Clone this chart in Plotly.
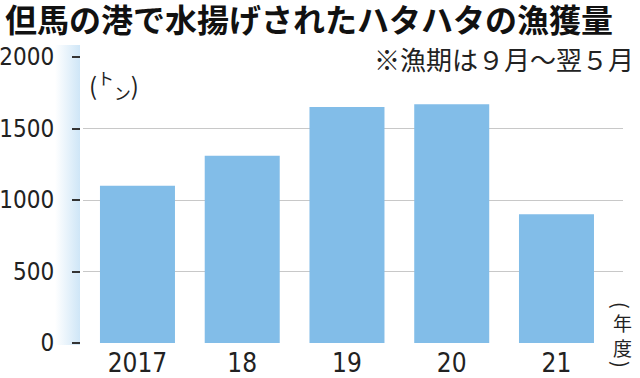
import base64
import plotly.graph_objects as go

years = ["2017", "18", "19", "20", "21"]
catch_t = [1100, 1310, 1650, 1670, 900]
y_ticks = [0, 500, 1000, 1500, 2000]
y_tick_labels = ["0", "500", "1000", "1500", "2000"]

title_text = "但馬の港で水揚げされたハタハタの漁獲量"
note_text = "※漁期は９月～翌５月"
unit_text = "(<sup>ト</sup><sub>ン</sub>)"

BAR = "#82bde8"
W, H = 640, 378
ML, MR, MT, MB = 80, 17, 57, 35
PW = W - ML - MR
PH = H - MT - MB
NUMFONT = "DejaVu Sans Condensed, Liberation Sans Narrow, Roboto, sans-serif"

def px_x(p):
    return (p - ML) / PW

def px_y(p):
    return (H - MB - p) / PH

svg = ('<svg xmlns="http://www.w3.org/2000/svg" width="25" height="300" preserveAspectRatio="none">'
       '<defs><linearGradient id="g" x1="0" y1="0" x2="1" y2="0">'
       '<stop offset="0" stop-color="#ffffff"/><stop offset="1" stop-color="#cfe6f7"/>'
       '</linearGradient></defs><rect width="25" height="300" fill="url(#g)"/></svg>')
src = "data:image/svg+xml;base64," + base64.b64encode(svg.encode()).decode()

fig = go.Figure()
fig.add_trace(go.Bar(x=list(range(len(years))), y=catch_t, marker_color=BAR,
                     marker_line_width=0, width=0.716, hoverinfo="skip"))

fig.update_layout(
    width=W, height=H,
    margin=dict(l=ML, r=MR, t=MT, b=MB, pad=0, autoexpand=False),
    paper_bgcolor="white", plot_bgcolor="white",
    showlegend=False,
    font=dict(family=NUMFONT, color="#222"),
    title=dict(text=title_text, x=0.008, xref="container", xanchor="left",
               y=1 - 21 / H, yref="container", yanchor="middle", automargin=False,
               font=dict(family="Noto Sans CJK JP", size=32, color="#111", weight="bold")),
    xaxis=dict(domain=[px_x(83), 1], range=[-0.52, 4.635], automargin=False,
               tickvals=list(range(len(years))), ticktext=years,
               showgrid=False, zeroline=False, showline=False, ticks="",
               tickfont=dict(size=26, color="#222"), ticklabelstandoff=2),
    yaxis=dict(anchor="free", position=0, range=[0, 2000], automargin=False,
               tickvals=y_ticks, ticktext=y_tick_labels,
               showgrid=True, gridcolor="#c8c8c8", gridwidth=1,
               zeroline=False, showline=False,
               ticks="outside", ticklen=8, tickwidth=2, tickcolor="#333",
               tickfont=dict(size=24, color="#222"), ticklabelstandoff=13),
    images=[dict(source=src, xref="paper", yref="paper",
                 x=px_x(55), y=px_y(45), sizex=px_x(80) - px_x(55),
                 sizey=px_y(45) - px_y(345), sizing="stretch",
                 xanchor="left", yanchor="top", layer="below")],
    annotations=[
        dict(text=note_text, xref="paper", yref="paper", x=px_x(636), y=px_y(58),
             xanchor="right", yanchor="middle", showarrow=False, bgcolor="white",
             font=dict(family="Noto Sans CJK JP", size=26, color="#222")),
        dict(text=unit_text, xref="paper", yref="paper", x=px_x(87), y=px_y(86),
             xanchor="left", yanchor="middle", showarrow=False,
             font=dict(family="Noto Sans CJK JP", size=24, color="#222")),
        dict(text="(", xref="paper", yref="paper", x=px_x(622), y=px_y(305),
             xanchor="center", yanchor="middle", showarrow=False, textangle=90,
             font=dict(family="Noto Sans CJK JP", size=20, color="#222")),
        dict(text="年<br>度", xref="paper", yref="paper", x=px_x(622), y=px_y(335),
             xanchor="center", yanchor="middle", showarrow=False,
             font=dict(family="Noto Sans CJK JP", size=19, color="#222")),
        dict(text=")", xref="paper", yref="paper", x=px_x(622), y=px_y(364),
             xanchor="center", yanchor="middle", showarrow=False, textangle=90,
             font=dict(family="Noto Sans CJK JP", size=20, color="#222")),
    ],
)

fig.write_html("out.html", config={"displayModeBar": False},
               post_script="document.body.style.margin='0';")
